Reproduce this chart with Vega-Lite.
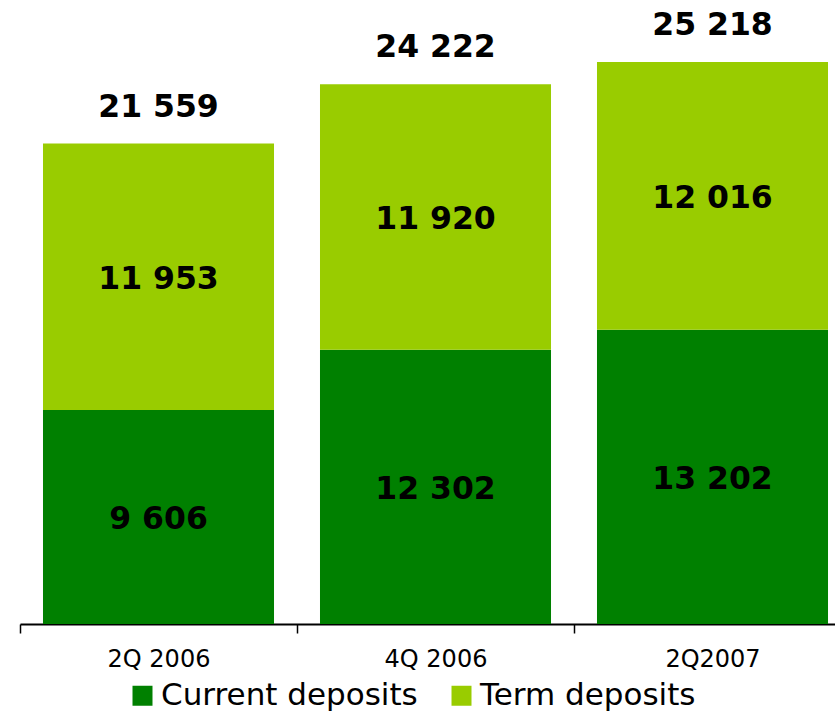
{
  "$schema": "https://vega.github.io/schema/vega-lite/v6.json",
  "autosize": {"type": "none"},
  "padding": {"left": 20, "top": 0, "right": 0, "bottom": 88},
  "width": 815,
  "height": 624,
  "background": "white",
  "config": {
    "view": {"stroke": null},
    "locale": {"number": {"decimal": ",", "thousands": " ", "grouping": [3], "currency": ["", ""]}}
  },
  "data": {
    "values": [
      {"quarter": "2Q 2006", "type": "Current deposits", "value": 9606},
      {"quarter": "2Q 2006", "type": "Term deposits", "value": 11953},
      {"quarter": "4Q 2006", "type": "Current deposits", "value": 12302},
      {"quarter": "4Q 2006", "type": "Term deposits", "value": 11920},
      {"quarter": "2Q2007", "type": "Current deposits", "value": 13202},
      {"quarter": "2Q2007", "type": "Term deposits", "value": 12016}
    ]
  },
  "encoding": {
    "x": {
      "field": "quarter",
      "type": "nominal",
      "sort": ["2Q 2006", "4Q 2006", "2Q2007"],
      "scale": {"range": [0, 831], "paddingInner": 0.166, "paddingOuter": 0.083},
      "axis": {
        "title": null,
        "labelAngle": 0,
        "labelFont": "DejaVu Sans",
        "labelFontSize": 24,
        "labelColor": "black",
        "labelPadding": 14,
        "domainColor": "black",
        "domainWidth": 2,
        "tickColor": "black",
        "tickWidth": 1.5,
        "tickSize": 9,
        "tickOffset": -138.5,
        "labelOffset": 138.5
      }
    }
  },
  "layer": [
    {
      "mark": {"type": "bar"},
      "encoding": {
        "y": {
          "field": "value",
          "type": "quantitative",
          "stack": "zero",
          "scale": {"domain": [0, 28000], "nice": false},
          "axis": null
        },
        "order": {"field": "type", "sort": "ascending"},
        "color": {
          "field": "type",
          "type": "nominal",
          "scale": {"domain": ["Current deposits", "Term deposits"], "range": ["#008000", "#99CC00"]},
          "legend": {
            "title": null,
            "orient": "none",
            "direction": "horizontal",
            "legendX": 107,
            "legendY": 680,
            "symbolType": "square",
            "symbolSize": 400,
            "symbolStrokeWidth": 0,
            "symbolOpacity": 1,
            "labelFont": "DejaVu Sans",
            "labelFontSize": 31,
            "labelColor": "black",
            "labelOffset": 3,
            "columnPadding": 28,
            "labelLimit": 400
          }
        }
      }
    },
    {
      "mark": {"type": "text", "font": "DejaVu Sans", "fontWeight": "bold", "fontSize": 31.5, "color": "black", "baseline": "middle", "dy": 3},
      "encoding": {
        "y": {"field": "value", "type": "quantitative", "stack": "zero", "bandPosition": 0.5},
        "order": {"field": "type", "sort": "ascending"},
        "detail": {"field": "type"},
        "text": {"field": "value", "type": "quantitative", "format": ",d"}
      }
    },
    {
      "mark": {"type": "text", "font": "DejaVu Sans", "fontWeight": "bold", "fontSize": 31.5, "color": "black", "baseline": "alphabetic", "dy": -27},
      "encoding": {
        "y": {"aggregate": "sum", "field": "value", "type": "quantitative"},
        "text": {"aggregate": "sum", "field": "value", "type": "quantitative", "format": ",d"}
      }
    }
  ]
}
